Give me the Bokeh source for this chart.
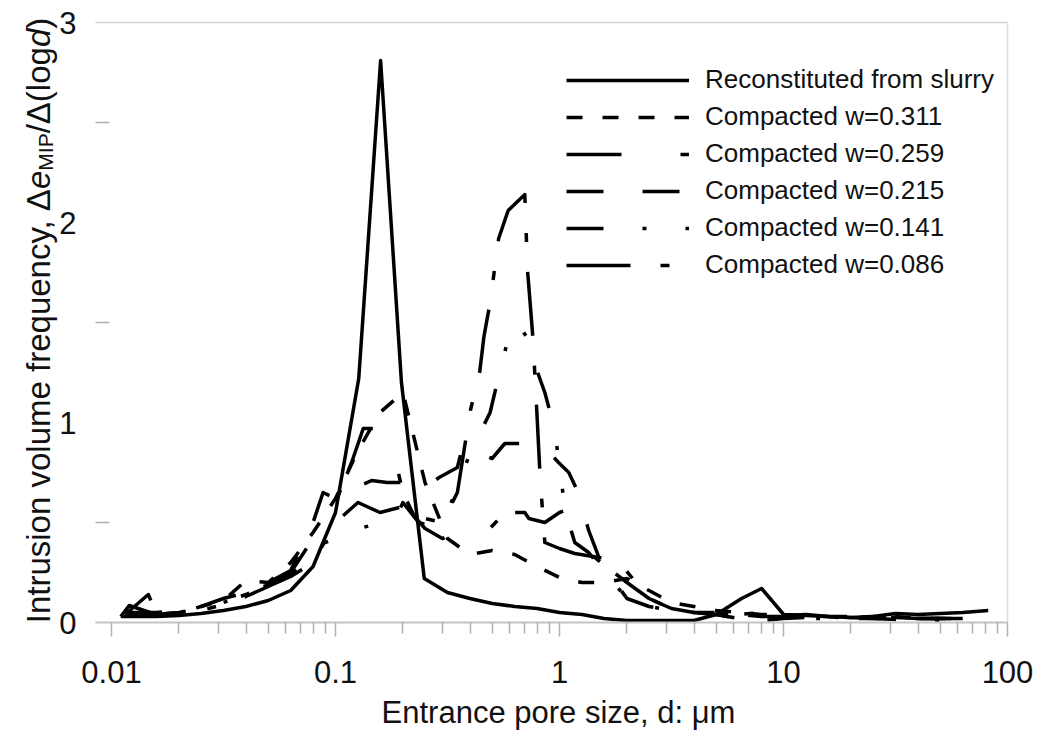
import glob
import math
from bokeh.plotting import figure
from bokeh.models import (Range1d, FixedTicker, CustomJSTickFormatter, Legend,
                          LegendItem, Label)
from bokeh.embed import file_html
from bokeh.resources import INLINE

# ---------------- data ----------------
series_names = ["Reconstituted from slurry", "Compacted w=0.311", "Compacted w=0.259",
                "Compacted w=0.215", "Compacted w=0.141", "Compacted w=0.086"]

slurry_x = [0.011, 0.0126, 0.0158, 0.02, 0.0251, 0.0316, 0.0398, 0.0501, 0.0631, 0.0794,
            0.1, 0.127, 0.159, 0.197, 0.249, 0.316, 0.398, 0.501, 0.631, 0.794, 1.0,
            1.26, 1.58, 2.0, 2.51, 3.16, 3.98, 5.01, 6.5, 7.98, 10.1, 12.6, 15.8, 20.0,
            25.1, 31.6, 39.8, 50.1, 63.1, 82.0]
slurry_y = [0.03, 0.03, 0.03, 0.035, 0.045, 0.06, 0.08, 0.11, 0.16, 0.28,
            0.55, 1.22, 2.81, 1.20, 0.22, 0.15, 0.12, 0.095, 0.08, 0.07, 0.05,
            0.04, 0.02, 0.01, 0.01, 0.01, 0.01, 0.04, 0.12, 0.17, 0.035, 0.04, 0.03, 0.025,
            0.03, 0.045, 0.04, 0.045, 0.05, 0.06]

w0311_x = [0.0115, 0.0126, 0.0158, 0.02, 0.0251, 0.0316, 0.0398, 0.0501, 0.0631, 0.0794,
           0.1, 0.126, 0.158, 0.2, 0.251, 0.316, 0.398, 0.501, 0.631, 0.794, 1.0, 1.26,
           1.58, 2.0, 2.51, 3.16, 3.98, 5.01, 6.31, 7.94, 10.0, 12.6, 15.8, 20.0, 25.1,
           31.6, 39.8, 50.1]
w0311_y = [0.05, 0.04, 0.04, 0.05, 0.08, 0.11, 0.21, 0.20, 0.30, 0.45,
           0.62, 0.86, 1.05, 1.15, 0.70, 0.42, 0.34, 0.36, 0.34, 0.28, 0.225, 0.20,
           0.20, 0.22, 0.16, 0.10, 0.08, 0.06, 0.05, 0.04, 0.04, 0.03, 0.03, 0.02, 0.03,
           0.03, 0.02, 0.02]

w0259_x = [0.012, 0.0158, 0.02, 0.0251, 0.0316, 0.0398, 0.0501, 0.0631, 0.0794, 0.1,
           0.118, 0.133, 0.15, 0.169, 0.18, 0.2, 0.225, 0.251, 0.3, 0.36, 0.4, 0.46,
           0.54, 0.63, 0.7, 0.73, 0.86, 1.0, 1.06, 1.17, 1.35, 1.53, 2.0, 2.51, 3.16,
           3.98, 5.01, 6.31, 7.94, 10.0, 15.8, 25.1, 39.8, 56.2]
w0259_y = [0.04, 0.04, 0.05, 0.07, 0.10, 0.14, 0.19, 0.25, 0.42, 0.60,
           0.80, 0.97, 0.97, 0.96, 0.87, 0.65, 0.53, 0.47, 0.42, 0.45, 0.50, 0.44,
           0.52, 0.55, 0.55, 0.52, 0.50, 0.55, 0.56, 0.39, 0.35, 0.30, 0.20, 0.12, 0.07,
           0.05, 0.04, 0.04, 0.03, 0.03, 0.02, 0.03, 0.02, 0.02]

w0215_x = [0.0115, 0.0158, 0.02, 0.0251, 0.0316, 0.0398, 0.0501, 0.0631, 0.0794, 0.088,
           0.1, 0.126, 0.145, 0.17, 0.2, 0.25, 0.29, 0.35, 0.37, 0.435, 0.5, 0.57,
           0.7, 0.8, 0.9, 0.99, 1.1, 1.2, 1.35, 1.53, 2.0, 2.51, 3.16, 3.98, 5.01,
           6.31, 7.94, 10.0, 15.8, 25.1, 39.8, 56.2]
w0215_y = [0.05, 0.05, 0.06, 0.08, 0.12, 0.15, 0.20, 0.26, 0.50, 0.65,
           0.62, 0.68, 0.71, 0.70, 0.70, 0.675, 0.725, 0.775, 0.885, 0.845, 0.82, 0.895,
           0.895, 0.88, 0.85, 0.80, 0.75, 0.66, 0.46, 0.30, 0.12, 0.08, 0.06, 0.05, 0.04,
           0.02, 0.01, 0.02, 0.03, 0.02, 0.02, 0.02]

w0141_x = [0.0115, 0.0146, 0.0158, 0.02, 0.0251, 0.0316, 0.0398, 0.0501, 0.0631, 0.0794,
           0.09, 0.1, 0.128, 0.16, 0.19, 0.2, 0.235, 0.27, 0.316, 0.4, 0.49, 0.54,
           0.59, 0.65, 0.72, 0.77, 0.86, 0.95, 1.06, 1.17, 1.35, 1.6, 2.0, 2.51, 3.16,
           3.98, 5.01, 6.31, 7.94, 10.0, 15.8, 25.1, 39.8, 50.1]
w0141_y = [0.04, 0.14, 0.05, 0.05, 0.07, 0.10, 0.14, 0.19, 0.24, 0.33,
           0.40, 0.42, 0.47, 0.50, 0.545, 0.60, 0.50, 0.48, 0.55, 0.85, 1.05, 1.25,
           1.42, 1.50, 1.42, 1.30, 1.15, 0.97, 0.56, 0.40, 0.35, 0.25, 0.12, 0.08, 0.06,
           0.05, 0.04, 0.02, 0.01, 0.02, 0.02, 0.02, 0.01, 0.01]

w0086_x = [0.011, 0.012, 0.0158, 0.02, 0.0251, 0.0316, 0.0398, 0.0501, 0.0631, 0.0794,
           0.1, 0.126, 0.158, 0.2, 0.251, 0.3, 0.35, 0.4, 0.44, 0.46, 0.49, 0.535,
           0.59, 0.70, 0.72, 0.76, 0.79, 0.82, 0.86, 1.0, 1.17, 1.5, 1.7, 1.95, 2.51,
           3.16, 3.98, 5.01, 6.31, 7.94, 10.0, 15.8, 25.1, 39.8, 63.1]
w0086_y = [0.03, 0.085, 0.04, 0.04, 0.06, 0.09, 0.13, 0.18, 0.23, 0.30,
           0.50, 0.60, 0.55, 0.58, 0.52, 0.50, 0.65, 1.06, 1.25, 1.43, 1.60, 1.92,
           2.06, 2.14, 1.76, 1.43, 1.08, 0.72, 0.40, 0.37, 0.345, 0.325, 0.32, 0.27, 0.12,
           0.07, 0.05, 0.05, 0.04, 0.05, 0.04, 0.03, 0.03, 0.02, 0.02]

x_ticks = [0.01, 0.1, 1, 10, 100]
y_ticks = [0, 1, 2, 3]
y_minor_ticks = [0.5, 1.5, 2.5]
x_max = 100
y_max = 3

x_title = "Entrance pore size, d: \u03bcm"

# ---------------- layout ----------------
FONT = "Liberation Sans"
W, H = 1040, 734
AX_LEFT, AX_RIGHT, AX_BOTTOM = 95, 1007, 622   # pixel positions of the axes
DEC = 224.0                                    # px per decade
LX0 = 2 - (AX_RIGHT - AX_LEFT) / DEC          # log10 of x at the y axis
PXY = 200.0                                    # px per unit of y


def dx(px):
    return 10 ** (LX0 + (px - AX_LEFT) / DEC)


def dy(py):
    return (AX_BOTTOM - py) / PXY


def text_width(txt, size, italic=False):
    name = "LiberationSans-Italic.ttf" if italic else "LiberationSans-Regular.ttf"
    files = glob.glob("/usr/share/fonts/**/" + name, recursive=True)
    if files:
        try:
            from PIL import ImageFont
            return ImageFont.truetype(files[0], size).getlength(txt)
        except Exception:
            pass
    return 0.55 * size * len(txt)


x_lo = dx(AX_LEFT)
# the frame covers the whole canvas; the axes are drawn at fixed locations inside it
p = figure(width=W, height=H, x_axis_type="log",
           x_range=Range1d(dx(0), dx(W)), y_range=Range1d(dy(H), dy(0)),
           output_backend="svg", toolbar_location=None)
p.min_border = 0
p.outline_line_color = None
p.xgrid.visible = False
p.ygrid.visible = False

xa = p.xaxis[0]
xa.fixed_location = 0
xa.bounds = (x_lo, x_max)
xa.ticker = FixedTicker(ticks=x_ticks,
                        minor_ticks=[m * 10.0 ** e for e in range(-2, 2) for m in range(2, 10)])
xa.formatter = CustomJSTickFormatter(code="return String(Number(tick.toPrecision(6)));")
xa.axis_line_color = "#c4c4c4"
xa.axis_line_width = 2
xa.major_tick_line_color = "#b0b0b0"
xa.major_tick_line_width = 1.5
xa.major_tick_out = 14
xa.major_tick_in = 0
xa.minor_tick_line_color = "#b0b0b0"
xa.minor_tick_line_width = 1.5
xa.minor_tick_out = 11
xa.minor_tick_in = 0
xa.major_label_text_font = FONT
xa.major_label_text_font_size = "31px"
xa.major_label_text_color = "#111111"
xa.major_label_standoff = 24

ya = p.yaxis[0]
ya.fixed_location = x_lo
ya.bounds = (0, y_max)
ya.ticker = FixedTicker(ticks=y_ticks, minor_ticks=y_minor_ticks)
ya.axis_line_color = None
ya.major_tick_line_color = None
ya.major_tick_in = 0
ya.major_tick_out = 0
ya.minor_tick_line_color = "#b0b0b0"
ya.minor_tick_line_width = 1.5
ya.minor_tick_in = 14
ya.minor_tick_out = 0
ya.major_label_text_font = FONT
ya.major_label_text_font_size = "31px"
ya.major_label_text_color = "#111111"
ya.major_label_standoff = 19

# plot-area border at the top and right
p.line([x_lo, x_max], [y_max, y_max], line_color="#d0d0d0", line_width=1.5)
p.line([x_max, x_max], [0, y_max], line_color="#dddddd", line_width=1.5)

all_x = [slurry_x, w0311_x, w0259_x, w0215_x, w0141_x, w0086_x]
all_y = [slurry_y, w0311_y, w0259_y, w0215_y, w0141_y, w0086_y]
dashes = ["solid", "16 20", "55 59 9 20", "37 39", "37 39 4 39 4 39", "64 30 9 30"]

items = []
for name, xs, ys, dash in zip(series_names, all_x, all_y, dashes):
    r = p.line(xs, ys, line_color="black", line_width=3.5, line_dash=dash,
               line_join="round")
    items.append(LegendItem(label=name, renderers=[r]))

legend = Legend(items=items, location=(566, H - 280), orientation="vertical",
                glyph_width=123, glyph_height=30, label_height=30, spacing=6,
                padding=0, margin=0, label_standoff=16,
                border_line_color=None, background_fill_alpha=0,
                label_text_font=FONT, label_text_font_size="26px",
                label_text_color="#111111")
p.add_layout(legend)

# x axis title
p.add_layout(Label(x=dx(558), y=dy(712), text=x_title, text_align="center",
                   text_baseline="alphabetic", text_font=FONT,
                   text_font_size="31px", text_color="#111111"))

# y axis title, built from pieces so that e and d are italic and MIP is a subscript
FS, SUB = 33, 21
pieces = [("Intrusion volume frequency, \u0394", FS, "normal", 0),
          ("e", FS, "italic", 0),
          ("MIP", SUB, "normal", 7),
          ("/\u0394(log", FS, "normal", 0),
          ("d", FS, "italic", 0),
          (")", FS, "normal", 0)]
widths = [text_width(t, s, st == "italic") for t, s, st, _ in pieces]
total = sum(widths)
base_x = 38
pos = 320 + total / 2.0
for (t, s, st, off), wdt in zip(pieces, widths):
    p.add_layout(Label(x=dx(base_x + off), y=dy(pos), text=t, angle=math.pi / 2,
                       text_align="left", text_baseline="alphabetic",
                       text_font=FONT, text_font_size=f"{s}px",
                       text_font_style=st, text_color="#111111"))
    pos -= wdt

open("out.html", "w").write(file_html(p, INLINE))
